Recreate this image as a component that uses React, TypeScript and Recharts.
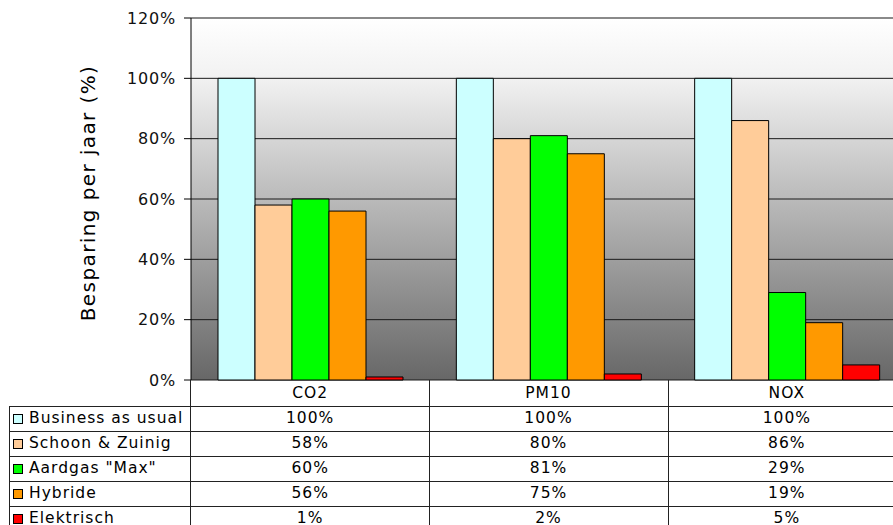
import React from 'react';
import { BarChart, Bar, XAxis, YAxis, CartesianGrid, ReferenceLine } from 'recharts';

const categories = ['CO2', 'PM10', 'NOX'];
const businessAsUsual = [100, 100, 100];
const schoonZuinig = [58, 80, 86];
const aardgasMax = [60, 81, 29];
const hybride = [56, 75, 19];
const elektrisch = [1, 2, 5];
const yTicks = [0, 20, 40, 60, 80, 100, 120];

const series = [
  { key: 'bau', name: 'Business as usual', color: '#CCFFFF', values: businessAsUsual },
  { key: 'sz', name: 'Schoon & Zuinig', color: '#FFCC99', values: schoonZuinig },
  { key: 'am', name: 'Aardgas "Max"', color: '#00FF00', values: aardgasMax },
  { key: 'hy', name: 'Hybride', color: '#FF9900', values: hybride },
  { key: 'el', name: 'Elektrisch', color: '#FF0000', values: elektrisch },
];

const data = categories.map((c, i) => {
  const row: Record<string, string | number> = { cat: c };
  series.forEach((s) => { row[s.key] = s.values[i]; });
  return row;
});

const FONT = '"DejaVu Sans", Verdana, sans-serif';

// layout in page pixels
const PLOT_LEFT = 191;
const PLOT_RIGHT = 906;
const PLOT_TOP = 18;
const PLOT_BOTTOM = 380;
const HEADER_H = 26;
const ROW_H = 25;

function DataTable() {
  const colW = (PLOT_RIGHT - PLOT_LEFT) / categories.length;
  const cellText: React.CSSProperties = {
    position: 'absolute', fontFamily: FONT, fontSize: 15.5, letterSpacing: 1,
    color: '#000', textAlign: 'center', lineHeight: '25px', whiteSpace: 'nowrap',
  };
  const els: React.ReactNode[] = [];
  categories.forEach((c, j) => {
    els.push(
      <div key={`h${j}`} style={{ ...cellText, left: PLOT_LEFT + j * colW, width: colW, top: PLOT_BOTTOM, height: HEADER_H, lineHeight: `${HEADER_H}px` }}>{c}</div>
    );
  });
  series.forEach((s, i) => {
    const top = PLOT_BOTTOM + HEADER_H + i * ROW_H;
    els.push(<div key={`l${i}`} style={{ position: 'absolute', left: 9, width: PLOT_RIGHT, top, height: 1, background: '#222' }} />);
    els.push(
      <div key={`sw${i}`} style={{ position: 'absolute', left: 13, top: top + 8, width: 8, height: 8, background: s.color, border: '1px solid #000' }} />
    );
    els.push(
      <div key={`n${i}`} style={{ ...cellText, left: 29, top, height: ROW_H, textAlign: 'left' }}>{s.name}</div>
    );
    s.values.forEach((v, j) => {
      els.push(
        <div key={`v${i}-${j}`} style={{ ...cellText, left: PLOT_LEFT + j * colW, width: colW, top, height: ROW_H }}>{`${v}%`}</div>
      );
    });
  });
  els.push(<div key="vl0" style={{ position: 'absolute', left: 9, top: PLOT_BOTTOM + HEADER_H, width: 1, height: 200, background: '#222' }} />);
  for (let j = 0; j < categories.length; j++) {
    els.push(<div key={`vc${j}`} style={{ position: 'absolute', left: Math.round(PLOT_LEFT + j * colW) - (j === 0 ? 1 : 0), top: PLOT_BOTTOM, width: 1, height: 200, background: '#222' }} />);
  }
  return <>{els}</>;
}

export default function App() {
  return (
    <div style={{ position: 'fixed', left: 0, top: 0, width: 893, height: 525, overflow: 'hidden', background: '#fff' }}>
      <div style={{ position: 'absolute', left: 0, top: 0 }}>
        <BarChart
          width={PLOT_RIGHT + 22}
          height={PLOT_BOTTOM + 28}
          data={data}
          margin={{ top: PLOT_TOP, right: 22, left: 0, bottom: 28 }}
          barCategoryGap={27}
          barGap={0}
        >
          <defs>
            <linearGradient id="plotBg" x1="0" y1="0" x2="0" y2="1">
              <stop offset="0%" stopColor="#ffffff" />
              <stop offset="17%" stopColor="#f1f1f1" />
              <stop offset="100%" stopColor="#676767" />
            </linearGradient>
          </defs>
          <CartesianGrid vertical={false} stroke="#1a1a1a" fill="url(#plotBg)" fillOpacity={1} />
          <ReferenceLine y={120} stroke="#8a8a8a" strokeWidth={1.5} />
          <XAxis dataKey="cat" hide />
          <YAxis
            width={PLOT_LEFT}
            domain={[0, 120]}
            ticks={yTicks}
            interval={0}
            tickFormatter={(v) => `${v}%`}
            axisLine={{ stroke: '#000' }}
            tickLine={{ stroke: '#000' }}
            tickSize={7}
            tickMargin={8}
            tick={{ fill: '#111', fontSize: 16, fontFamily: FONT, letterSpacing: 0.8 }}
            label={{
              content: () => (
                <text
                  x={88}
                  y={193}
                  transform="rotate(-90 88 193)"
                  textAnchor="middle"
                  dominantBaseline="central"
                  fontFamily={FONT}
                  fontSize={20}
                  letterSpacing={1.4}
                  fill="#000"
                >
                  Besparing per jaar (%)
                </text>
              ),
            }}
          />
          {series.map((s) => (
            <Bar key={s.key} dataKey={s.key} name={s.name} fill={s.color} stroke="#000" strokeWidth={1} isAnimationActive={false} />
          ))}
        </BarChart>
      </div>
      <DataTable />
    </div>
  );
}
